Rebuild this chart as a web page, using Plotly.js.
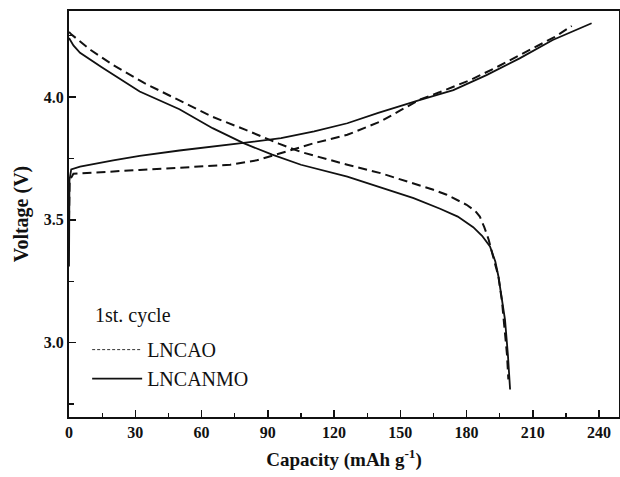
<!DOCTYPE html>
<html>
<head>
<meta charset="utf-8">
<script src="https://cdn.plot.ly/plotly-3.0.1.min.js"></script>
<style>html,body{margin:0;padding:0;background:#fff;}#chart{width:620px;height:477px;}</style>
</head>
<body>
<div id="chart"></div>
<script>
// LNCANMO (solid) charge
const capChargeLNCANMO = [0, 0.2, 1, 5, 20, 32, 50, 68, 79, 96, 105, 111, 126, 140, 159, 174, 189, 204, 219, 236.6];
const volChargeLNCANMO = [3.31, 3.66, 3.705, 3.716, 3.742, 3.76, 3.782, 3.80, 3.813, 3.832, 3.848, 3.86, 3.893, 3.935, 3.988, 4.028, 4.089, 4.157, 4.232, 4.30];
// LNCANMO (solid) discharge
const capDischargeLNCANMO = [0, 2, 5, 15, 32, 50, 65, 79, 92, 105, 126, 140, 156, 168, 176, 183, 187, 190.6, 193, 194.4, 196, 197.4, 198.7, 199.7];
const volDischargeLNCANMO = [4.24, 4.21, 4.18, 4.12, 4.022, 3.95, 3.873, 3.812, 3.765, 3.724, 3.676, 3.635, 3.588, 3.545, 3.513, 3.47, 3.435, 3.391, 3.33, 3.27, 3.18, 3.093, 2.95, 2.809];
// LNCAO (dashed) charge
const capChargeLNCAO = [0, 0.3, 2, 15, 32, 50, 73, 85, 91, 98, 105, 111, 126, 141, 150, 159, 168, 182, 194, 207, 220, 227.6];
const volChargeLNCAO = [3.5, 3.66, 3.687, 3.695, 3.703, 3.712, 3.724, 3.742, 3.758, 3.778, 3.797, 3.812, 3.846, 3.9, 3.945, 3.99, 4.02, 4.07, 4.123, 4.184, 4.245, 4.289];
// LNCAO (dashed) discharge
const capDischargeLNCAO = [0, 1, 10, 20, 34, 50, 65, 80, 95, 105, 115, 126, 141, 156, 165, 171, 176, 180, 184, 186, 188, 190, 192, 194.4, 196, 197.4, 198.3, 198.9];
const volDischargeLNCAO = [4.265, 4.255, 4.19, 4.13, 4.057, 3.985, 3.919, 3.866, 3.81, 3.776, 3.75, 3.724, 3.69, 3.649, 3.622, 3.602, 3.578, 3.561, 3.535, 3.513, 3.47, 3.419, 3.35, 3.27, 3.17, 3.053, 2.95, 2.85];

const seriesNames = ['LNCAO', 'LNCANMO'];
const legendTitle = '1st. cycle';
const xTitle = 'Capacity (mAh g<sup>-1</sup>)';
const yTitle = 'Voltage (V)';

const dashedLine = {color: '#111', width: 2, dash: '9px,5px'};
const solidLine = {color: '#111', width: 1.8};

const traces = [
  {x: capChargeLNCAO, y: volChargeLNCAO, mode: 'lines', line: dashedLine, showlegend: false, hoverinfo: 'skip'},
  {x: capDischargeLNCAO, y: volDischargeLNCAO, mode: 'lines', line: dashedLine, showlegend: false, hoverinfo: 'skip'},
  {x: capChargeLNCANMO, y: volChargeLNCANMO, mode: 'lines', line: solidLine, showlegend: false, hoverinfo: 'skip'},
  {x: capDischargeLNCANMO, y: volDischargeLNCANMO, mode: 'lines', line: solidLine, showlegend: false, hoverinfo: 'skip'},
  {x: [null], y: [null], mode: 'lines', name: seriesNames[0], line: {color: '#333', width: 1, dash: '3px,2px'}},
  {x: [null], y: [null], mode: 'lines', name: seriesNames[1], line: {color: '#111', width: 1.8}}
];

const serif = 'Liberation Serif, Times New Roman, serif';
const layout = {
  width: 620, height: 477,
  margin: {l: 69, r: 1, t: 11, b: 60},
  paper_bgcolor: '#fff', plot_bgcolor: '#fff',
  font: {family: serif, color: '#111'},
  xaxis: {
    range: [0, 249], tick0: 0, dtick: 30, ticks: 'inside', ticklen: 7, tickwidth: 1.5, tickcolor: '#111',
    minor: {dtick: 15, ticks: 'inside', ticklen: 4, tickwidth: 1.2, tickcolor: '#111'},
    showgrid: false, zeroline: false, showline: true, linewidth: 2, linecolor: '#111', mirror: true,
    tickfont: {family: serif, size: 16, weight: 'bold', color: '#111'},
    title: {text: xTitle, font: {family: serif, size: 19, weight: 'bold', color: '#111'}, standoff: 12}
  },
  yaxis: {
    range: [2.697, 4.35], tick0: 3.0, dtick: 0.5, tickformat: '.1f', ticks: 'inside', ticklen: 7, tickwidth: 1.5, tickcolor: '#111',
    minor: {dtick: 0.25, ticks: 'inside', ticklen: 5, tickwidth: 1.2, tickcolor: '#111'},
    showgrid: false, zeroline: false, showline: true, linewidth: 2, linecolor: '#111', mirror: true,
    tickfont: {family: serif, size: 16, weight: 'bold', color: '#111'},
    title: {text: yTitle, font: {family: serif, size: 20, weight: 'bold', color: '#111'}, standoff: 10}
  },
  legend: {
    x: 0.033, y: 0.214, xanchor: 'left', yanchor: 'top',
    bgcolor: 'rgba(0,0,0,0)', borderwidth: 0,
    font: {family: serif, size: 20, color: '#111'},
    itemwidth: 50, tracegroupgap: 0
  },
  annotations: [{
    text: legendTitle, xref: 'paper', yref: 'paper', x: 0.0436, y: 0.251,
    xanchor: 'left', yanchor: 'middle', showarrow: false,
    font: {family: serif, size: 20, color: '#111'}
  }],
  showlegend: true
};

Plotly.newPlot('chart', traces, layout, {staticPlot: true, displayModeBar: false});
</script>
</body>
</html>
